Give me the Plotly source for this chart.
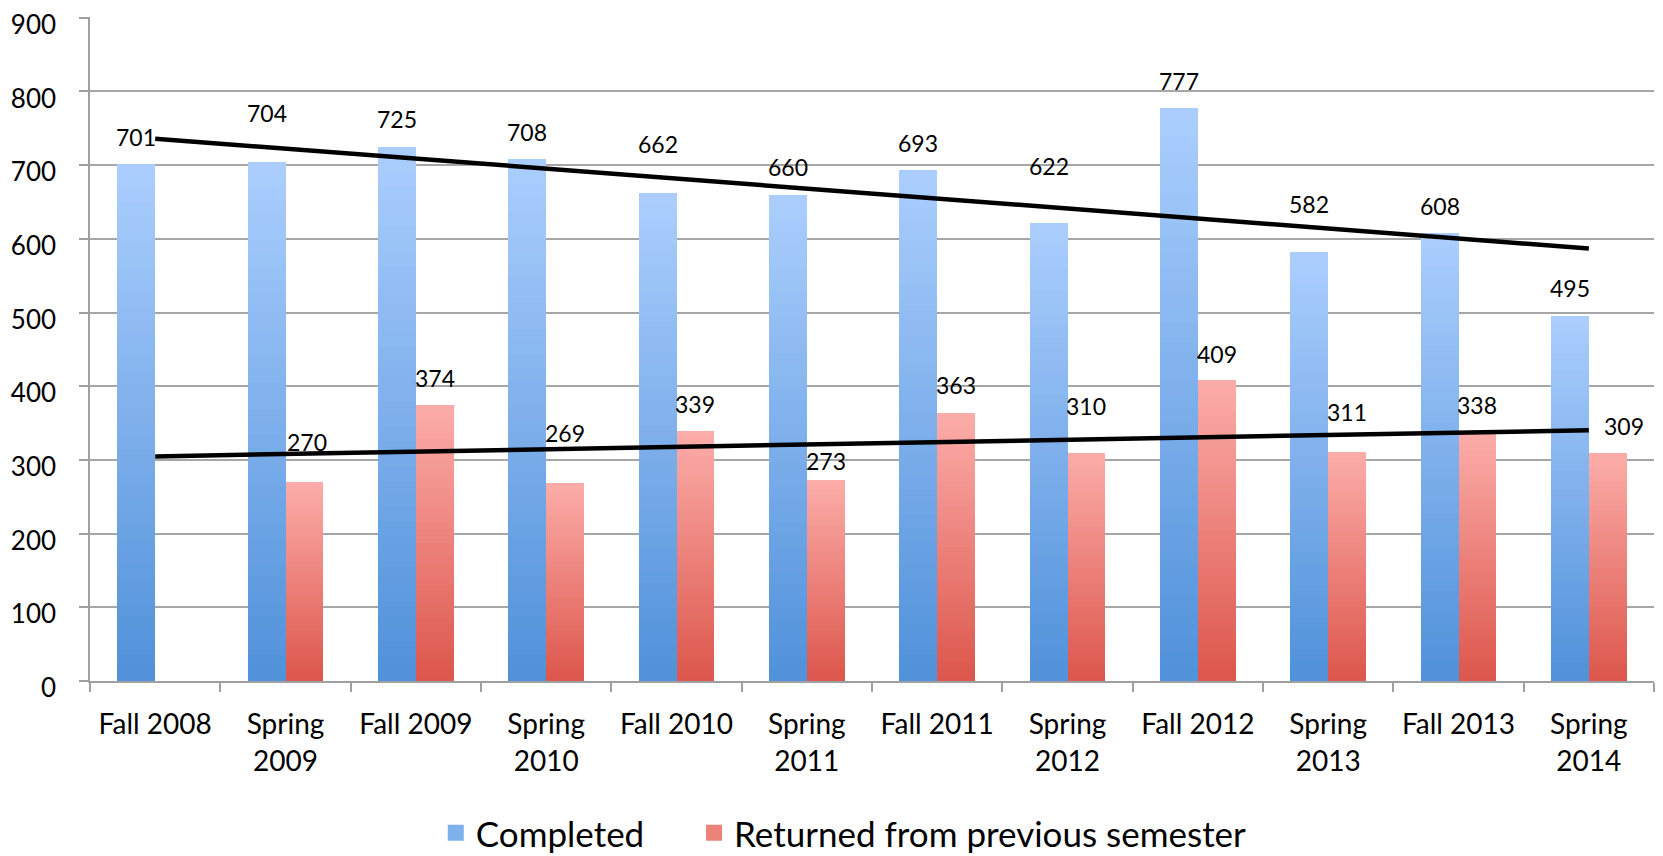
import numpy as np
import plotly.graph_objects as go

# ---- data ----
categories = ["Fall 2008", "Spring<br>2009", "Fall 2009", "Spring<br>2010", "Fall 2010",
              "Spring<br>2011", "Fall 2011", "Spring<br>2012", "Fall 2012", "Spring<br>2013",
              "Fall 2013", "Spring<br>2014"]
completed = [701, 704, 725, 708, 662, 660, 693, 622, 777, 582, 608, 495]
returned = [None, 270, 374, 269, 339, 273, 363, 310, 409, 311, 338, 309]
series_names = ["Completed", "Returned from previous semester"]
y_ticks = [0, 100, 200, 300, 400, 500, 600, 700, 800, 900]

# label placement (pixels above bar top / sideways), style only
label_up_blue = [27, 49, 28, 27, 49, 28, 27, 57, 27, 48, 27, 28]
label_up_red = [0, 40, 27, 50, 27, 19, 28, 47, 26, 40, 27, 27]
label_dx_red = [0, 3, 0, 0, 0, 0, 0, 0, 0, 0, 0, 16]

FONT = "Lato"
BW = 0.29
N = 40

blue_top, blue_bot = np.array([171, 206, 253]), np.array([80, 145, 218])
red_top, red_bot = np.array([252, 173, 169]), np.array([220, 86, 76])


def col(top, bot, f):
    c = bot + (top - bot) * f
    return "rgb(%d,%d,%d)" % tuple(np.round(c))


fig = go.Figure()

legend_labels = [series_names[0] + "\u00a0" * 5, series_names[1]]
for series, name, lab, top, bot, off in [
        (completed, series_names[0], legend_labels[0], blue_top, blue_bot, -BW),
        (returned, series_names[1], legend_labels[1], red_top, red_bot, 0.0)]:
    # legend proxy
    fig.add_trace(go.Scatter(x=[None], y=[None], mode="markers", name=lab, legendgroup=name,
                             marker=dict(symbol="square", size=21, color=col(top, bot, 0.5),
                                         line=dict(width=0)),
                             showlegend=True))
    for k in range(N):
        f = (N - k) / N
        ys = [None if v is None else v * f for v in series]
        fig.add_trace(go.Bar(
            x=categories, y=ys, width=BW, offset=off,
            marker=dict(color=col(top, bot, f - 0.5 / N), line=dict(width=0)),
            name=name, legendgroup=name, showlegend=False,
            hoverinfo="skip" if k else None,
        ))

# trend lines (linear least-squares fit)
idx = np.arange(len(categories))
cb = np.polyfit(idx, completed, 1)
ri = np.array([i for i, v in enumerate(returned) if v is not None])
rv = np.array([v for v in returned if v is not None])
cr = np.polyfit(ri, rv, 1)
for c in (cb, cr):
    fig.add_trace(go.Scatter(
        x=[categories[0], categories[-1]], y=[np.polyval(c, 0), np.polyval(c, len(categories) - 1)],
        mode="lines", line=dict(color="black", width=4.5), showlegend=False, hoverinfo="skip"))

# data labels
ann = []
for i, v in enumerate(completed):
    ann.append(dict(x=i - BW / 2, y=v, text=str(v), showarrow=False, yshift=label_up_blue[i],
                    xref="x", yref="y", font=dict(family=FONT, size=23, color="black")))
for i, v in enumerate(returned):
    if v is None:
        continue
    ann.append(dict(x=i + BW / 2, y=v, text=str(v), showarrow=False, yshift=label_up_red[i],
                    xshift=label_dx_red[i],
                    xref="x", yref="y", font=dict(family=FONT, size=23, color="black")))

# the page body has an 8px margin, so the figure is drawn 8px smaller
fig.update_layout(
    width=1655, height=848,
    margin=dict(l=82, r=9, t=9, b=175),
    barmode="overlay", bargap=0,
    plot_bgcolor="white", paper_bgcolor="white",
    font=dict(family=FONT, color="black"),
    annotations=ann,
    legend=dict(orientation="h", xref="container", yref="container", x=0.505, xanchor="center",
                y=0.027, yanchor="middle", font=dict(size=35, family=FONT), traceorder="normal",
                itemwidth=30, bgcolor="rgba(0,0,0,0)"),
    xaxis=dict(type="category", tickson="boundaries", ticks="outside", ticklen=9,
               tickcolor="#a0a0a0", tickwidth=1.5, showgrid=False, automargin=False,
               showline=True, linecolor="#a0a0a0", linewidth=1.5,
               tickfont=dict(size=28, family=FONT), ticklabelstandoff=18),
    yaxis=dict(range=[0, 901], tickmode="array", tickvals=y_ticks, ticks="outside", ticklen=9,
               tickcolor="#a0a0a0", ticklabeloverflow="allow", ticklabelshift=7,
               tickwidth=1.5, showgrid=True, gridcolor="#a6a6a6", gridwidth=1.5, automargin=False,
               showline=True, linecolor="#a0a0a0", linewidth=1.5, zeroline=False,
               tickfont=dict(size=26, family=FONT), ticklabelstandoff=18),
)

fig.write_html("out.html")
